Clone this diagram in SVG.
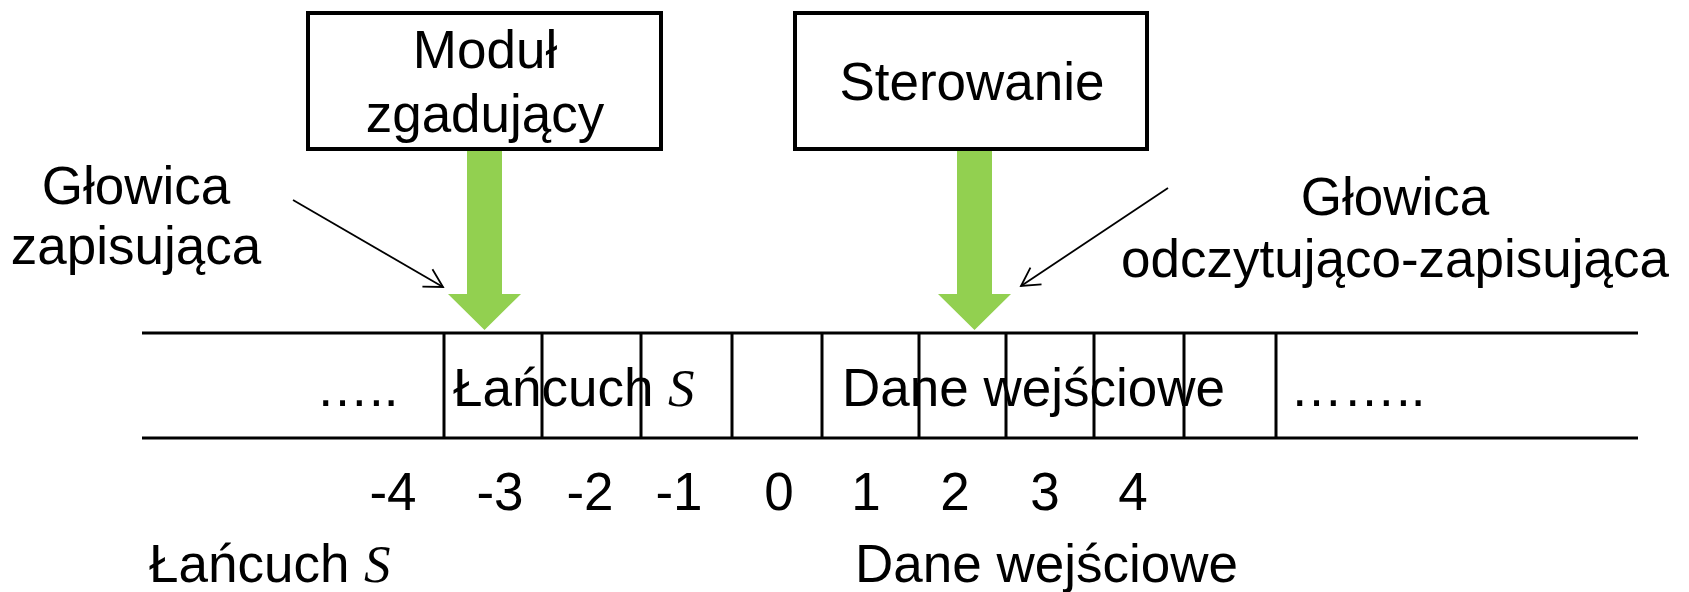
<svg xmlns="http://www.w3.org/2000/svg" width="1689" height="592" viewBox="0 0 1689 592">
<style>
.t{font-family:"Liberation Sans",Arial,sans-serif;font-size:53px;fill:#000}
.m{text-anchor:middle}
.s{font-family:"Liberation Serif","Times New Roman",serif;font-style:italic}
.box{fill:#fff;stroke:#000;stroke-width:4}
.tape{stroke:#000;stroke-width:3;fill:none}
.green{fill:#92D050}
.thin{stroke:#000;stroke-width:1.8;fill:none}
</style>
<defs>
<marker id="open" viewBox="0 0 22 24" refX="20" refY="12" markerWidth="22" markerHeight="24" markerUnits="userSpaceOnUse" orient="auto">
<path d="M2,2 L20,12 L2,22" fill="none" stroke="#000" stroke-width="1.8"/>
</marker>
</defs>
<rect width="1689" height="592" fill="#fff"/>
<g id="tape">
<path class="tape" d="M142,333 H1638 M142,438 H1638"/>
<path class="tape" d="M444,333 V438 M542,333 V438 M641,333 V438 M732,333 V438 M822,333 V438 M919,333 V438 M1006,333 V438 M1094,333 V438 M1184,333 V438 M1276,333 V438"/>
<text class="t" x="316" y="406">…..</text>
<text class="t" x="453" y="406">Łańcuch <tspan class="s">S</tspan></text>
<text class="t" x="842" y="406">Dane wejściowe</text>
<text class="t" x="1290" y="406">……..</text>
</g>
<g id="modul">
<rect class="box" x="308" y="13" width="353" height="136"/>
<text class="t m" x="485" y="68">Moduł</text>
<text class="t m" x="485" y="132">zgadujący</text>
</g>
<g id="sterowanie">
<rect class="box" x="795" y="13" width="352" height="136"/>
<text class="t m" x="972" y="100">Sterowanie</text>
</g>
<g id="glowica-zapisujaca">
<text class="t m" x="136" y="204">Głowica</text>
<text class="t m" x="136" y="264">zapisująca</text>
</g>
<g id="glowica-odczytujaco">
<text class="t m" x="1395" y="215">Głowica</text>
<text class="t m" x="1395" y="277">odczytująco-zapisująca</text>
</g>
<g id="indices">
<text class="t m" x="393" y="510">-4</text>
<text class="t m" x="500" y="510">-3</text>
<text class="t m" x="590" y="510">-2</text>
<text class="t m" x="679" y="510">-1</text>
<text class="t m" x="779" y="510">0</text>
<text class="t m" x="866" y="510">1</text>
<text class="t m" x="955" y="510">2</text>
<text class="t m" x="1045" y="510">3</text>
<text class="t m" x="1133" y="510">4</text>
</g>
<g id="legend">
<text class="t" x="149" y="582">Łańcuch <tspan class="s">S</tspan></text>
<text class="t" x="855" y="582">Dane wejściowe</text>
</g>
<g id="connectors">
<polygon class="green" points="467,151 502,151 502,294 521,294 484.5,330 448,294 467,294"/>
<polygon class="green" points="957,151 992,151 992,294 1011,294 974.5,330 938,294 957,294"/>
<line class="thin" x1="293" y1="200" x2="443" y2="287" marker-end="url(#open)"/>
<line class="thin" x1="1168" y1="188" x2="1021" y2="286" marker-end="url(#open)"/>
</g>
</svg>
